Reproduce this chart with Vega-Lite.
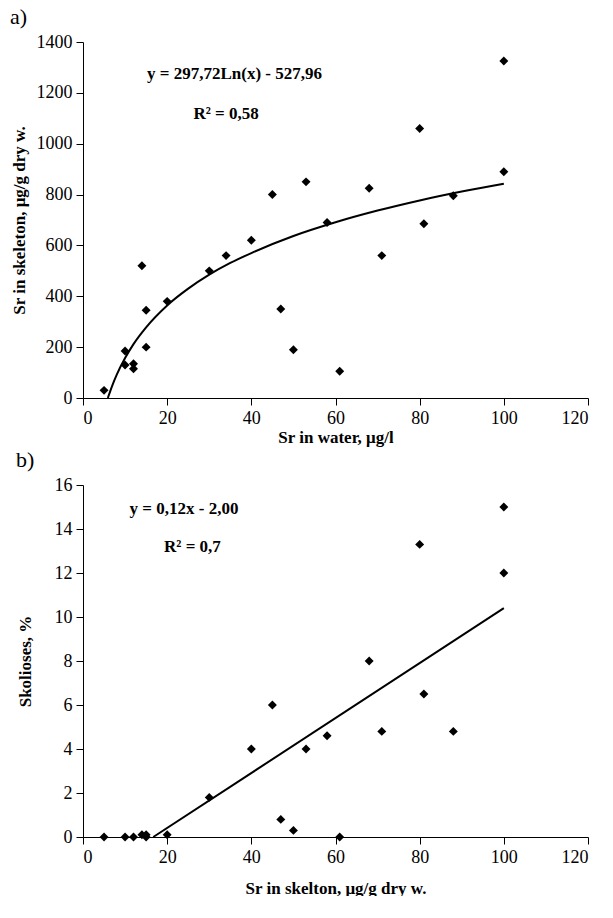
{
"$schema":"https://vega.github.io/schema/vega-lite/v6.json",
"padding":{"left":10,"top":6,"right":0,"bottom":0},
"spacing":4,
"config":{"font":"Liberation Serif","view":{"stroke":null},
"text":{"font":"Liberation Serif"},
"axis":{"grid":false,"domainColor":"#000","tickColor":"#000","labelColor":"#000","titleColor":"#000","labelFontSize":18,"titleFontSize":17,"titleFontWeight":"bold","labelFont":"Liberation Serif","titleFont":"Liberation Serif","tickSize":7,"labelPadding":4,"format":"d"},
"title":{"font":"Liberation Serif","fontSize":22,"fontWeight":"normal","anchor":"start","frame":"bounds","color":"#000"}},
"datasets":{
"a":[{"x":5,"y":30},{"x":10,"y":185},{"x":10,"y":130},{"x":12,"y":135},{"x":12,"y":115},{"x":14,"y":520},{"x":15,"y":345},{"x":15,"y":200},{"x":20,"y":380},{"x":30,"y":500},{"x":34,"y":560},{"x":40,"y":620},{"x":45,"y":800},{"x":47,"y":350},{"x":50,"y":190},{"x":53,"y":850},{"x":58,"y":690},{"x":61,"y":105},{"x":68,"y":825},{"x":71,"y":560},{"x":80,"y":1060},{"x":81,"y":685},{"x":88,"y":795},{"x":100,"y":1325},{"x":100,"y":890}],
"afit":[{"x":5.9,"y":0},{"x":7,"y":51},{"x":8,"y":91},{"x":10,"y":157},{"x":12,"y":212},{"x":15,"y":278},{"x":20,"y":364},{"x":25,"y":430},{"x":30,"y":485},{"x":35,"y":531},{"x":40,"y":570},{"x":50,"y":637},{"x":60,"y":691},{"x":70,"y":737},{"x":80,"y":777},{"x":90,"y":812},{"x":100,"y":843}],
"b":[{"x":5,"y":0},{"x":10,"y":0},{"x":12,"y":0},{"x":14,"y":0.1},{"x":15,"y":0.1},{"x":15,"y":0},{"x":20,"y":0.1},{"x":30,"y":1.8},{"x":40,"y":4},{"x":45,"y":6},{"x":47,"y":0.8},{"x":50,"y":0.3},{"x":53,"y":4},{"x":58,"y":4.6},{"x":61,"y":0},{"x":68,"y":8},{"x":71,"y":4.8},{"x":80,"y":13.3},{"x":81,"y":6.5},{"x":88,"y":4.8},{"x":100,"y":15},{"x":100,"y":12}],
"bfit":[{"x":16.7,"y":0},{"x":100,"y":10.4}]
},
"vconcat":[
{"title":{"text":"a)","offset":4},"width":505,"height":356,
"layer":[
{"data":{"name":"afit"},"mark":{"type":"line","color":"#000","strokeWidth":2,"interpolate":"monotone"},"encoding":{"x":{"field":"x","type":"quantitative","scale":{"domain":[0,120]},"axis":{"title":"Sr in water, μg/l","values":[0,20,40,60,80,100,120],"titlePadding":2}},"y":{"field":"y","type":"quantitative","scale":{"domain":[0,1400]},"axis":{"title":"Sr in skeleton, μg/g dry w.","values":[0,200,400,600,800,1000,1200,1400],"titlePadding":8}}}},
{"data":{"name":"a"},"mark":{"type":"point","shape":"diamond","filled":true,"color":"#000","opacity":1,"size":80},"encoding":{"x":{"field":"x","type":"quantitative"},"y":{"field":"y","type":"quantitative"}}},
{"data":{"values":[{"x":36,"y":1275,"t":"y = 297,72Ln(x) - 527,96"},{"x":34,"y":1115,"t":"R² = 0,58"}]},"mark":{"type":"text","fontWeight":"bold","fontSize":17,"color":"#000"},"encoding":{"x":{"field":"x","type":"quantitative"},"y":{"field":"y","type":"quantitative"},"text":{"field":"t"}}}
]},
{"title":{"text":"b)","offset":4},"width":505,"height":352,
"layer":[
{"data":{"name":"bfit"},"mark":{"type":"line","color":"#000","strokeWidth":2},"encoding":{"x":{"field":"x","type":"quantitative","scale":{"domain":[0,120]},"axis":{"title":"Sr in skelton, μg/g dry w.","values":[0,20,40,60,80,100,120],"titlePadding":14}},"y":{"field":"y","type":"quantitative","scale":{"domain":[0,16]},"axis":{"title":"Skolioses, %","values":[0,2,4,6,8,10,12,14,16],"titlePadding":20}}}},
{"data":{"name":"b"},"mark":{"type":"point","shape":"diamond","filled":true,"color":"#000","opacity":1,"size":80},"encoding":{"x":{"field":"x","type":"quantitative"},"y":{"field":"y","type":"quantitative"}}},
{"data":{"values":[{"x":24,"y":14.9,"t":"y = 0,12x - 2,00"},{"x":26,"y":13.2,"t":"R² = 0,7"}]},"mark":{"type":"text","fontWeight":"bold","fontSize":17,"color":"#000"},"encoding":{"x":{"field":"x","type":"quantitative"},"y":{"field":"y","type":"quantitative"},"text":{"field":"t"}}}
]}
]}
